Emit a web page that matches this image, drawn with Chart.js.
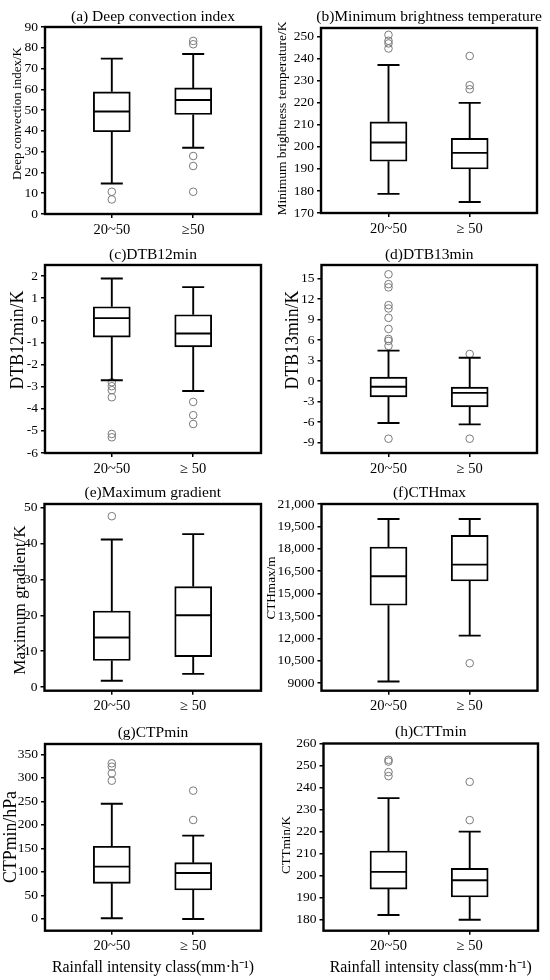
<!DOCTYPE html>
<html><head><meta charset="utf-8">
<script src="https://cdn.jsdelivr.net/npm/chart.js@4.4.0/dist/chart.umd.min.js"></script>
<style>
html,body{margin:0;padding:0;background:#fff;}
body{width:550px;height:980px;position:relative;overflow:hidden;}
.cell{position:absolute;}
</style></head><body>
<script>
// ---- data ----
const classesA = ['20~50', '\u226550'];
const classes = ['20~50', '\u2265 50'];

// box stats per class: [lower whisker, Q1, median, Q3, upper whisker]
const dciBox = [[14.7, 39.6, 49.3, 58.8, 74.8], [31.9, 47.9, 54.9, 60.7, 77.0]];
const dciOut = [[10.7, 7.0], [83.3, 81.7, 27.9, 23.1, 10.7]];
const dciTicks = [0, 10, 20, 30, 40, 50, 60, 70, 80, 90];

const mbtBox = [[178.7, 193.5, 202.0, 211.4, 237.2], [175.0, 190.0, 197.3, 203.9, 220.0]];
const mbtOut = [[250.9, 248.2, 247.0, 244.7], [241.3, 228.0, 226.2]];
const mbtTicks = [170, 180, 190, 200, 210, 220, 230, 240, 250];

const d12Box = [[-2.71, -0.76, 0.10, 0.61, 1.89], [-3.2, -1.2, -0.6, 0.25, 1.5]];
const d12Out = [[-2.8, -2.98, -3.16, -3.48, -5.14, -5.29], [-3.69, -4.29, -4.69]];
const d12Ticks = [-6, -5, -4, -3, -2, -1, 0, 1, 2];

const d13Box = [[-6.11, -2.29, -0.82, 0.6, 4.47], [-6.31, -3.76, -1.7, -0.87, 3.44]];
const d13Out = [[15.64, 14.2, 13.73, 11.13, 10.64, 9.27, 7.65, 6.18, 5.9, 5.16, -8.41], [3.98, -8.41]];
const d13Ticks = [-9, -6, -3, 0, 3, 6, 9, 12, 15];

const mgBox = [[1.76, 7.4, 13.8, 21.2, 41.1], [3.7, 8.5, 20.0, 28.0, 42.6]];
const mgOut = [[47.6], []];
const mgTicks = [0, 5, 10, 15, 20, 25, 30, 35, 40, 45, 50];

const cthBox = [[9112, 14219, 16160, 18123, 19996], [12190, 15848, 16940, 18903, 19996]];
const cthOut = [[], [10338]];
const cthTicks = [9000, 10500, 12000, 13500, 15000, 16500, 18000, 19500, 21000];
const cthTickLabels = ['9000', '10,500', '12,000', '13,500', '15,000', '16,500', '18,000', '19,500', '21,000'];

const ctpBox = [[1.4, 75.8, 111.2, 154.5, 245], [0, 61.6, 97.8, 119.7, 177.1]];
const ctpOut = [[330.9, 323.8, 309.6, 294], [272.8, 210.4]];
const ctpTicks = [0, 50, 100, 150, 200, 250, 300, 350];

const cttBox = [[182.1, 193.9, 201.7, 211.2, 235.2], [180, 190.3, 197.9, 203.3, 220]];
const cttOut = [[252.6, 251.8, 247.0, 245.2], [242.6, 225.2]];
const cttTicks = [180, 190, 200, 210, 220, 230, 240, 250, 260];

const xAxisTitle = 'Rainfall intensity class(mm\u00b7h\u207b\u00b9)';

// ---- layout ----
const FONT = '"Liberation Serif", "Times New Roman", serif';
const rows = [{top: 0, h: 240}, {top: 240, h: 240}, {top: 480, h: 240}, {top: 720, h: 260}];
const cols = [{left: 0, w: 275, c1: 111.8, c2: 193.2}, {left: 255, w: 295, c1: 388.5, c2: 469.7}];

const panels = [
  {title: '(a) Deep convection index', yTitle: 'Deep convection index/K', box: dciBox, out: dciOut, ticks: dciTicks, xl: classesA, min: 0, max: 90, col: 0, row: 0, fTop: 27, fBot: 214, fLeft: 45, fRight: 261, yTX: 17.5, yTY: 113.5, yTS: 13, tY: 17},
  {title: '(b)Minimum brightness temperature', yTitle: 'Minimum brightness temperature/K', box: mbtBox, out: mbtOut, ticks: mbtTicks, xl: classes, min: 170, max: 254, col: 1, row: 0, fTop: 28, fBot: 213, fLeft: 321, fRight: 537, yTX: 282.5, yTY: 118.5, yTS: 13.5, tY: 17.3},
  {title: '(c)DTB12min', yTitle: 'DTB12min/K', box: d12Box, out: d12Out, ticks: d12Ticks, xl: classes, min: -6, max: 2.5, col: 0, row: 1, fTop: 265, fBot: 453, fLeft: 45, fRight: 261, yTX: 18, yTY: 340, yTS: 17.8, tY: 255},
  {title: '(d)DTB13min', yTitle: 'DTB13min/K', box: d13Box, out: d13Out, ticks: d13Ticks, xl: classes, min: -10.5, max: 17, col: 1, row: 1, fTop: 265, fBot: 453, fLeft: 321.5, fRight: 537, yTX: 293, yTY: 340, yTS: 17.8, tY: 255},
  {title: '(e)Maximum gradient', yTitle: 'Maximum gradient/K', box: mgBox, out: mgOut, ticks: mgTicks, xl: classes, min: -1, max: 51, col: 0, row: 2, fTop: 504, fBot: 690.7, fLeft: 44.5, fRight: 261, yTX: 20, yTY: 600, yTS: 17.2, tY: 493.3},
  {title: '(f)CTHmax', yTitle: 'CTHmax/m', box: cthBox, out: cthOut, ticks: cthTicks, labels: cthTickLabels, xl: classes, min: 8500, max: 21000, col: 1, row: 2, fTop: 504, fBot: 690.7, fLeft: 321.5, fRight: 537.5, yTX: 271.7, yTY: 588, yTS: 13.2, tY: 492.7},
  {title: '(g)CTPmin', yTitle: 'CTPmin/hPa', box: ctpBox, out: ctpOut, ticks: ctpTicks, xl: classes, min: -25, max: 372, col: 0, row: 3, fTop: 744, fBot: 930.7, fLeft: 45, fRight: 261, yTX: 11, yTY: 837, yTS: 17.8, tY: 732.7},
  {title: '(h)CTTmin', yTitle: 'CTTmin/K', box: cttBox, out: cttOut, ticks: cttTicks, xl: classes, min: 175, max: 260, col: 1, row: 3, fTop: 743.5, fBot: 930.7, fLeft: 323.5, fRight: 538, yTX: 287, yTY: 845, yTS: 13, tY: 731.7}
];

const boxPlugin = {
  id: 'boxWhisker',
  afterDatasetsDraw(chart, args, opts) {
    const {ctx} = chart;
    const x = chart.scales.x, y = chart.scales.y;
    ctx.save();
    ctx.strokeStyle = '#000';
    ctx.lineWidth = 1.9;
    ctx.lineCap = 'butt';
    opts.stats.forEach((s, i) => {
      const cx = x.getPixelForValue(i + 1);
      const lo = y.getPixelForValue(s[0]), q1 = y.getPixelForValue(s[1]), md = y.getPixelForValue(s[2]),
            q3 = y.getPixelForValue(s[3]), hi = y.getPixelForValue(s[4]);
      const hb = opts.boxWidth / 2, hc = opts.capWidth / 2;
      ctx.beginPath();
      ctx.moveTo(cx, q1); ctx.lineTo(cx, lo);
      ctx.moveTo(cx - hc, lo); ctx.lineTo(cx + hc, lo);
      ctx.moveTo(cx, q3); ctx.lineTo(cx, hi);
      ctx.moveTo(cx - hc, hi); ctx.lineTo(cx + hc, hi);
      ctx.moveTo(cx - hb + 1, md); ctx.lineTo(cx + hb - 1, md);
      ctx.stroke();
    });
    ctx.restore();
  },
  afterDraw(chart, args, opts) {
    const {ctx, chartArea: a} = chart;
    ctx.save();
    ctx.lineWidth = 2.4;
    ctx.strokeStyle = '#000';
    ctx.strokeRect(a.left, a.top, a.right - a.left, a.bottom - a.top);
    ctx.fillStyle = '#000';
    ctx.font = '15.5px ' + FONT;
    ctx.textAlign = 'center';
    ctx.textBaseline = 'middle';
    ctx.fillText(opts.title, (a.left + a.right) / 2, opts.titleY);
    // y-axis title
    ctx.font = opts.yTitleSize + 'px ' + FONT;
    ctx.translate(opts.yTitleX, opts.yTitleY);
    ctx.rotate(-Math.PI / 2);
    ctx.fillText(opts.yTitle, 0, 0);
    ctx.restore();
  }
};

panels.forEach(p => {
  const r = rows[p.row], c = cols[p.col];
  const div = document.createElement('div');
  div.className = 'cell';
  div.style.left = c.left + 'px';
  div.style.top = r.top + 'px';
  div.style.width = c.w + 'px';
  div.style.height = r.h + 'px';
  const cv = document.createElement('canvas');
  cv.width = c.w; cv.height = r.h;
  cv.style.width = c.w + 'px'; cv.style.height = r.h + 'px';
  div.appendChild(cv);
  document.body.appendChild(div);

  const yW = p.fLeft - c.left;
  const xH = r.top + r.h - p.fBot;
  const padTop = p.fTop - r.top;
  const padRight = c.left + c.w - p.fRight;
  const showX = p.row === 3;
  const unit = c.c2 - c.c1;
  const xMin = 1 - (c.c1 - p.fLeft) / unit;
  const xMax = 2 + (p.fRight - c.c2) / unit;

  new Chart(cv, {
    type: 'bar',
    data: {
      datasets: [
        {
          type: 'bar',
          data: p.box.map((s, i) => ({x: i + 1, y: [s[1], s[3]]})),
          backgroundColor: '#ffffff',
          borderColor: '#000000',
          borderWidth: 1.9,
          borderSkipped: false,
          barThickness: 37
        },
        {
          type: 'scatter',
          data: p.out.flatMap((arr, i) => arr.map(v => ({x: i + 1, y: v}))),
          pointRadius: 3.8,
          pointStyle: 'circle',
          backgroundColor: 'rgba(0,0,0,0)',
          borderColor: '#7a7a7a',
          borderWidth: 1,
          showLine: false
        }
      ]
    },
    options: {
      responsive: false,
      animation: false,
      events: [],
      layout: {padding: {left: 0, right: padRight, top: padTop, bottom: 0}},
      plugins: {
        legend: {display: false},
        tooltip: {enabled: false},
        title: {display: false},
        boxWhisker: {stats: p.box, boxWidth: 37, capWidth: 22, title: p.title, titleY: p.tY - r.top,
                     yTitle: p.yTitle, yTitleX: p.yTX - c.left, yTitleY: p.yTY - r.top, yTitleSize: p.yTS}
      },
      scales: {
        x: {
          type: 'linear', min: xMin, max: xMax, offset: false,
          afterBuildTicks: s => { s.ticks = [{value: 1}, {value: 2}]; },
          afterFit: s => { s.height = xH; },
          ticks: {callback: v => p.xl[v - 1], font: {family: FONT, size: 14.5}, color: '#000', padding: 3, maxRotation: 0, autoSkip: false},
          grid: {display: true, offset: false, drawOnChartArea: false, drawTicks: true, tickLength: 4, color: '#000', lineWidth: 1.5},
          border: {display: false},
          title: {display: showX, text: xAxisTitle, font: {family: FONT, size: 15.8}, color: '#000', padding: {top: 0, bottom: 3}}
        },
        y: {
          type: 'linear', min: p.min, max: p.max,
          afterBuildTicks: s => { s.ticks = p.ticks.map(v => ({value: v})); },
          afterFit: s => { s.width = yW; },
          ticks: {
            callback: (v, i) => p.labels ? p.labels[i] : String(v),
            font: {family: FONT, size: 13.5}, color: '#000', padding: 3
          },
          grid: {display: true, offset: false, drawOnChartArea: false, drawTicks: true, tickLength: 4, color: '#000', lineWidth: 1.5},
          border: {display: false},
          title: {display: false}
        }
      }
    },
    plugins: [boxPlugin]
  });
});
</script>
</body></html>
